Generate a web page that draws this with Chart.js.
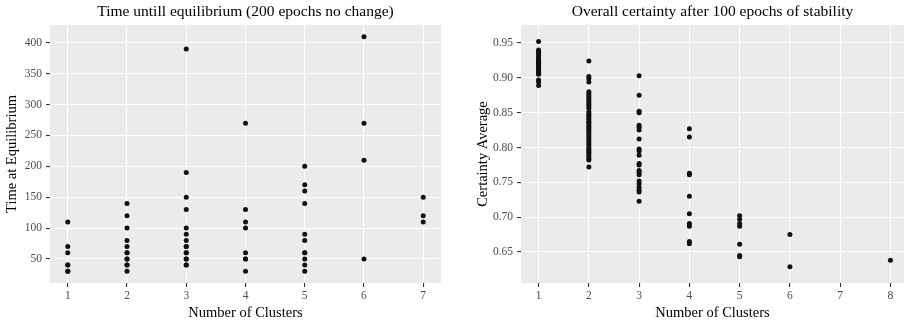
<!DOCTYPE html>
<html>
<head>
<meta charset="utf-8">
<script src="https://cdn.jsdelivr.net/npm/chart.js@4"></script>
<style>
  body { margin: 0; background: #fff; }
  #wrap { position: relative; width: 908px; height: 324px; }
  canvas { position: absolute; top: 0; }
</style>
</head>
<body>
<div id="wrap">
  <canvas id="left" width="454" height="324" style="left:0"></canvas>
  <canvas id="right" width="454" height="324" style="left:454px"></canvas>
</div>
<script>
// left panel: time to equilibrium per cluster count
const timeClusters = [1, 2, 3, 4, 5, 6, 7];
const timeValues = [
  [110, 70, 60, 40, 40, 30, 30],
  [140, 120, 100, 80, 70, 60, 60, 50, 50, 40, 40, 30],
  [390, 190, 150, 130, 100, 90, 80, 70, 70, 60, 60, 50, 50, 40, 40],
  [270, 130, 110, 100, 60, 50, 50, 30],
  [200, 170, 160, 140, 90, 80, 60, 60, 50, 40, 30],
  [410, 270, 210, 50],
  [150, 120, 110],
];
const timeXTicks = [1, 2, 3, 4, 5, 6, 7];
const timeYTicks = [50, 100, 150, 200, 250, 300, 350, 400];

// right panel: certainty average per cluster count
const certClusters = [1, 2, 3, 4, 5, 6, 8];
const certValues = [
  [0.952, 0.940, 0.938, 0.937, 0.935, 0.932, 0.930, 0.927, 0.925, 0.923, 0.921, 0.920,
   0.918, 0.916, 0.914, 0.912, 0.910, 0.908, 0.906, 0.905, 0.897, 0.894, 0.889],
  [0.924, 0.902, 0.899, 0.894, 0.880, 0.877, 0.874, 0.871, 0.868, 0.865, 0.862, 0.859,
   0.856, 0.851, 0.848, 0.846, 0.843, 0.840, 0.837, 0.835, 0.832, 0.829, 0.826, 0.823,
   0.820, 0.817, 0.814, 0.811, 0.808, 0.805, 0.802, 0.799, 0.796, 0.793, 0.790, 0.787,
   0.784, 0.782, 0.772],
  [0.903, 0.875, 0.852, 0.850, 0.832, 0.829, 0.825, 0.812, 0.798, 0.795, 0.789, 0.777,
   0.775, 0.767, 0.764, 0.761, 0.752, 0.748, 0.743, 0.739, 0.736, 0.723],
  [0.827, 0.815, 0.763, 0.761, 0.730, 0.705, 0.691, 0.687, 0.665, 0.662],
  [0.702, 0.697, 0.691, 0.687, 0.661, 0.645, 0.643],
  [0.675, 0.629],
  [0.638],
];
const certXTicks = [1, 2, 3, 4, 5, 6, 7, 8];
const certYTicks = [0.65, 0.70, 0.75, 0.80, 0.85, 0.90, 0.95];

const SERIF = "'Liberation Serif', 'Times New Roman', serif";

const panelBg = {
  id: "panelBg",
  beforeDraw(chart) {
    const { ctx, chartArea: a } = chart;
    ctx.save();
    ctx.fillStyle = "#EBEBEB";
    ctx.fillRect(a.left, a.top, a.right - a.left, a.bottom - a.top);
    ctx.restore();
  },
};

const toPoints = (clusters, values) =>
  clusters.flatMap((c, i) => values[i].map((v) => ({ x: c, y: v })));

const makeChart = (id, cfg) => {
  const ctx = document.getElementById(id).getContext("2d");
  return new Chart(ctx, {
    type: "scatter",
    data: {
      datasets: [{
        data: toPoints(cfg.clusters, cfg.values),
        backgroundColor: "#111111",
        borderWidth: 0,
        pointRadius: 2.5,
      }],
    },
    options: {
      responsive: false,
      animation: false,
      devicePixelRatio: 1,
      layout: { padding: { top: 0, right: cfg.padRight, bottom: 0, left: 0 } },
      plugins: {
        legend: { display: false },
        tooltip: { enabled: false },
        title: {
          display: true,
          text: cfg.title,
          fullSize: false,
          color: "#000",
          font: { family: SERIF, size: 15.5, weight: "normal" },
          padding: { top: 3, bottom: 3.4 },
        },
      },
      scales: {
        x: {
          type: "linear",
          min: cfg.xMin,
          max: cfg.xMax,
          afterBuildTicks: (s) => { s.ticks = cfg.xTicks.map((v) => ({ value: v })); },
          afterFit: (s) => { s.height = 41; },
          ticks: {
            color: "#4D4D4D",
            font: { family: SERIF, size: 11.5 },
            padding: 2,
            maxRotation: 0,
            callback: (v) => String(v),
          },
          grid: { color: "#FFFFFF", lineWidth: 1.1, tickLength: 4, tickColor: "#333333" },
          border: { display: false },
          title: {
            display: true,
            text: "Number of Clusters",
            color: "#000",
            font: { family: SERIF, size: 14.5 },
            padding: { top: 0, bottom: 2.5 },
          },
        },
        y: {
          type: "linear",
          min: cfg.yMin,
          max: cfg.yMax,
          afterBuildTicks: (s) => { s.ticks = cfg.yTicks.map((v) => ({ value: v })); },
          afterFit: (s) => { s.width = cfg.yWidth; },
          ticks: {
            color: "#4D4D4D",
            font: { family: SERIF, size: 11.5 },
            padding: 4,
            callback: cfg.yFormat,
          },
          grid: { color: "#FFFFFF", lineWidth: 1.1, tickLength: 4, tickColor: "#333333" },
          border: { display: false },
          title: {
            display: true,
            text: cfg.yTitle,
            color: "#000",
            font: { family: SERIF, size: 14.5 },
            padding: { top: cfg.yTitlePad, bottom: 0 },
          },
        },
      },
    },
    plugins: [panelBg],
  });
};

makeChart("left", {
  title: "Time untill equilibrium (200 epochs no change)",
  yTitle: "Time at Equilibrium",
  clusters: timeClusters,
  values: timeValues,
  xTicks: timeXTicks,
  yTicks: timeYTicks,
  xMin: 0.7, xMax: 7.3,
  yMin: 11, yMax: 429,
  yWidth: 50,
  yTitlePad: 3,
  padRight: 13,
  yFormat: (v) => String(v),
});

makeChart("right", {
  title: "Overall certainty after 100 epochs of stability",
  yTitle: "Certainty Average",
  clusters: certClusters,
  values: certValues,
  xTicks: certXTicks,
  yTicks: certYTicks,
  xMin: 0.65, xMax: 8.27,
  yMin: 0.6055, yMax: 0.9758,
  yWidth: 67,
  yTitlePad: 20,
  padRight: 0,
  yFormat: (v) => v.toFixed(2),
});
</script>
</body>
</html>
